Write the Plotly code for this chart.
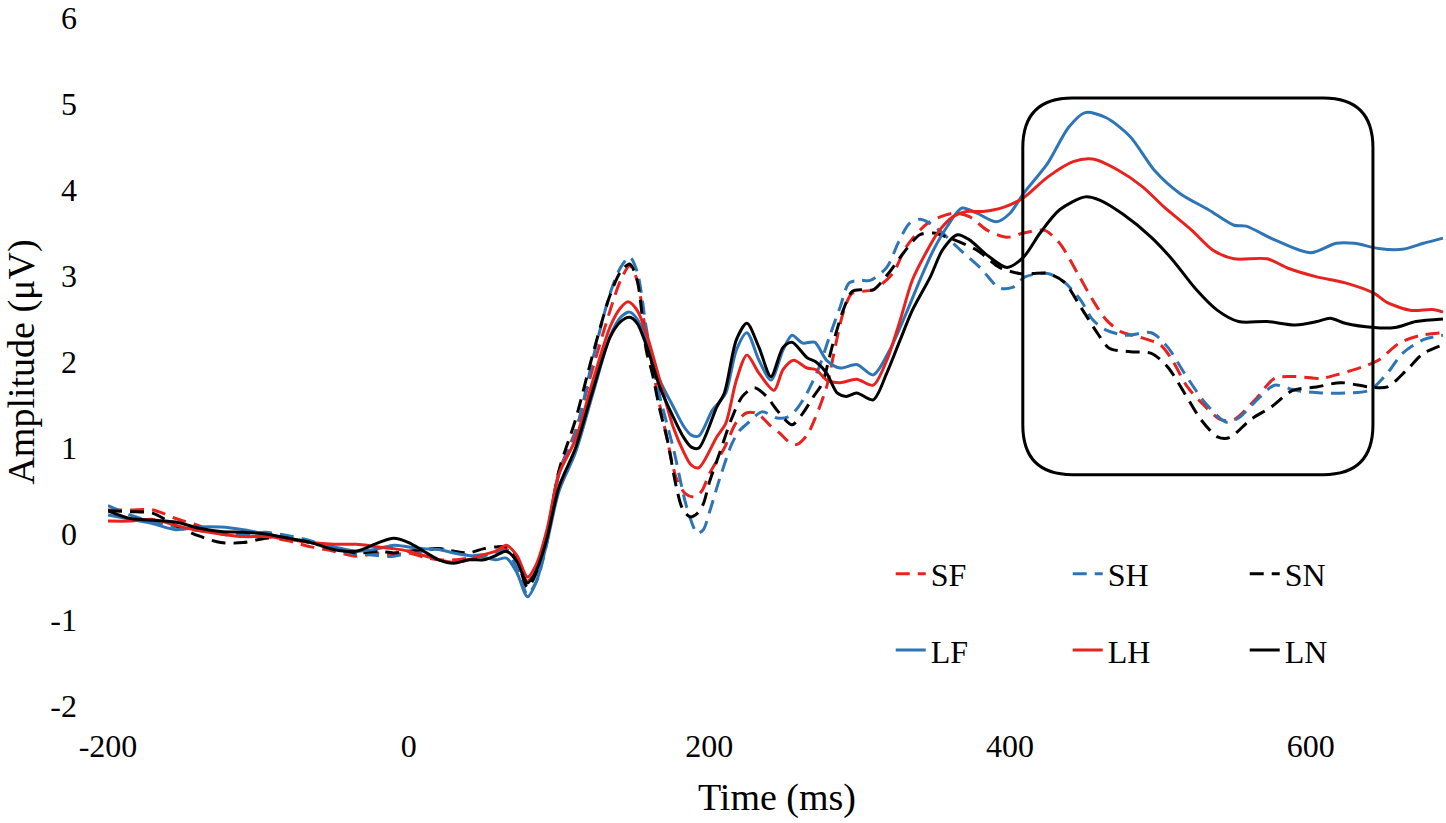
import plotly.graph_objects as go

# ---- data (time in ms, amplitude in microvolts) ----
t_SF = [-200,-185,-170,-155,-140,-125,-110,-95,-80,-65,-50,-35,-20,-10,0,10,20,30,40,50,58,65,72,79,85,92,100,111,122,134,141,147,152,158,162,167,172,178,184,190,195,200,210,218,225,232,240,247,253,258,265,270,278,284,289,295,309,322,331,345,362,373,385,398,409,423,433,445,455,464,474,488,500,508,518,530,540,549,563,576,590,607,617,634,645,659,673,688]
v_SF = [0.28,0.28,0.28,0.18,0.1,0.0,-0.02,-0.03,-0.08,-0.15,-0.2,-0.26,-0.22,-0.24,-0.22,-0.27,-0.3,-0.3,-0.28,-0.25,-0.2,-0.18,-0.3,-0.55,-0.4,0.0,0.72,1.2,1.9,2.6,2.95,3.12,2.95,2.3,1.95,1.5,1.1,0.65,0.47,0.43,0.5,0.7,1.0,1.3,1.41,1.40,1.27,1.17,1.07,1.04,1.15,1.33,1.71,2.2,2.57,2.80,2.84,3.03,3.34,3.61,3.73,3.69,3.53,3.45,3.50,3.53,3.38,3.03,2.72,2.49,2.35,2.28,2.20,2.02,1.71,1.48,1.33,1.33,1.56,1.81,1.83,1.81,1.85,1.94,2.02,2.22,2.31,2.34]

t_SH = [-200,-185,-170,-155,-140,-125,-110,-95,-80,-65,-50,-35,-20,-10,0,10,20,30,40,50,58,65,72,79,85,92,100,111,122,134,141,147,152,158,162,167,176,185,192,196,200,207,215,220,225,235,245,252,258,265,273,280,287,293,300,307,318,326,333,340,345,355,367,380,393,402,410,425,436,447,455,464,477,494,505,516,530,544,552,566,576,590,607,623,639,651,661,675,688]
v_SH = [0.33,0.22,0.14,0.08,0.04,0.02,0.0,0.02,-0.02,-0.08,-0.18,-0.23,-0.25,-0.26,-0.22,-0.2,-0.17,-0.2,-0.25,-0.24,-0.22,-0.2,-0.4,-0.7,-0.55,-0.1,0.7,1.17,2.0,2.8,3.1,3.22,3.05,2.4,2.0,1.6,1.0,0.31,0.01,0.05,0.25,0.65,1.05,1.2,1.28,1.42,1.35,1.36,1.45,1.64,1.94,2.3,2.64,2.92,2.95,2.95,3.10,3.4,3.61,3.66,3.63,3.5,3.30,3.10,2.86,2.87,2.99,3.03,2.93,2.72,2.49,2.37,2.31,2.34,2.17,1.87,1.52,1.30,1.35,1.59,1.73,1.67,1.64,1.64,1.67,1.87,2.10,2.26,2.31]

t_SN = [-200,-185,-170,-155,-140,-125,-110,-95,-80,-65,-50,-35,-20,-10,0,10,20,30,40,50,58,65,72,79,85,92,100,111,122,134,141,147,152,158,162,167,172,178,182,187,192,196,200,207,215,222,230,238,245,255,262,269,275,282,289,295,302,309,320,327,340,349,360,378,393,406,415,425,436,447,458,466,480,494,505,516,527,538,546,560,574,588,604,620,639,651,664,675,688]
v_SN = [0.27,0.26,0.24,0.1,-0.02,-0.1,-0.1,-0.05,-0.05,-0.1,-0.15,-0.22,-0.2,-0.22,-0.2,-0.18,-0.17,-0.2,-0.22,-0.17,-0.15,-0.15,-0.3,-0.62,-0.45,0.0,0.74,1.33,2.06,2.78,3.05,3.14,2.95,2.14,1.87,1.45,1.1,0.55,0.3,0.2,0.24,0.35,0.6,0.95,1.35,1.6,1.70,1.6,1.44,1.27,1.4,1.59,1.75,2.2,2.6,2.82,2.84,2.84,3.05,3.22,3.48,3.50,3.44,3.30,3.10,3.03,3.03,3.03,2.93,2.64,2.34,2.16,2.12,2.10,1.94,1.64,1.33,1.13,1.12,1.33,1.48,1.67,1.71,1.76,1.71,1.71,1.91,2.10,2.20]

t_LF = [-200,-185,-170,-155,-140,-125,-110,-95,-80,-65,-50,-35,-20,-10,0,10,20,30,40,50,58,65,72,79,85,92,100,111,122,134,141,147,152,158,167,176,183,188,193,202,206,211,218,225,233,241,249,255,262,270,278,287,298,309,320,331,340,349,358,368,378,391,400,409,425,439,450,464,480,496,513,532,549,557,576,600,617,629,645,661,675,688]
v_LF = [0.22,0.17,0.12,0.05,0.08,0.08,0.05,0.0,-0.05,-0.1,-0.15,-0.2,-0.17,-0.13,-0.15,-0.17,-0.18,-0.22,-0.25,-0.27,-0.3,-0.28,-0.45,-0.73,-0.55,-0.1,0.5,0.95,1.6,2.3,2.52,2.58,2.5,2.26,1.79,1.48,1.25,1.15,1.14,1.44,1.52,1.64,2.14,2.34,2.02,1.79,2.14,2.31,2.22,2.23,2.02,1.93,1.97,1.85,2.14,2.57,2.95,3.30,3.57,3.79,3.73,3.63,3.73,3.96,4.31,4.73,4.90,4.84,4.62,4.23,3.96,3.77,3.59,3.58,3.42,3.27,3.38,3.38,3.32,3.31,3.38,3.44]

t_LH = [-200,-185,-170,-155,-140,-125,-110,-95,-80,-65,-50,-35,-20,-10,0,10,20,30,40,50,58,65,72,79,85,92,100,111,122,134,141,146,152,158,167,176,183,188,193,205,211,218,225,233,243,249,256,265,271,278,287,298,309,318,327,335,345,353,362,371,382,396,409,425,442,455,472,488,502,521,535,549,571,585,604,623,642,651,667,681,688]
v_LH = [0.15,0.15,0.17,0.1,0.04,0.0,-0.03,-0.03,-0.06,-0.1,-0.12,-0.12,-0.15,-0.17,-0.2,-0.25,-0.3,-0.33,-0.3,-0.24,-0.2,-0.13,-0.25,-0.5,-0.35,0.05,0.7,1.1,1.75,2.41,2.63,2.70,2.6,2.34,1.79,1.24,0.95,0.8,0.77,1.13,1.29,1.79,2.08,1.87,1.67,1.91,2.02,1.93,1.91,1.79,1.76,1.80,1.73,2.02,2.49,2.95,3.30,3.53,3.69,3.75,3.75,3.80,3.91,4.15,4.33,4.36,4.23,4.04,3.81,3.53,3.30,3.20,3.20,3.09,2.99,2.92,2.80,2.69,2.60,2.61,2.58]

t_LN = [-200,-185,-170,-155,-140,-125,-110,-95,-80,-65,-50,-35,-20,-10,0,10,20,30,40,50,58,65,72,79,85,92,100,111,122,134,141,147,152,158,167,176,183,188,193,205,210,218,225,233,241,249,255,265,271,278,285,291,298,309,318,327,335,347,355,365,373,385,398,409,420,433,450,460,475,494,508,524,538,552,571,590,604,613,623,642,656,670,688]
v_LN = [0.27,0.18,0.16,0.14,0.07,0.03,0.02,0.0,-0.05,-0.1,-0.18,-0.2,-0.1,-0.05,-0.1,-0.2,-0.3,-0.34,-0.3,-0.3,-0.25,-0.2,-0.32,-0.57,-0.42,-0.05,0.55,1.0,1.64,2.29,2.47,2.52,2.45,2.2,1.71,1.36,1.12,1.01,1.0,1.48,1.64,2.26,2.45,2.17,1.83,2.17,2.23,2.05,2.0,1.87,1.64,1.6,1.64,1.56,1.87,2.26,2.60,2.99,3.30,3.48,3.42,3.24,3.10,3.22,3.50,3.77,3.92,3.88,3.72,3.45,3.19,2.84,2.60,2.47,2.47,2.43,2.47,2.51,2.45,2.40,2.40,2.47,2.50]

x_ticks = [-200, 0, 200, 400, 600]
y_ticks = [-2, -1, 0, 1, 2, 3, 4, 5, 6]

# highlighted window (rounded box) in data units
box_t0, box_t1 = 408.5, 641.4
box_v0, box_v1 = 0.69, 5.07
box_rt, box_rv = 33, 0.58

RED = "#E8231F"
BLUE = "#2E75B6"
BLACK = "#000000"
DASH = "14px,8px"
FONT = "Liberation Serif"

fig = go.Figure()

def add(t, v, name, color, dash, legend):
    fig.add_trace(go.Scatter(
        x=t, y=v, mode="lines", name=name,
        line=dict(color=color, width=3, dash=dash, shape="spline", smoothing=0.8),
        legend=legend, hoverinfo="skip"))

add(t_SF, v_SF, "SF", RED, DASH, "legend")
add(t_SH, v_SH, "SH", BLUE, DASH, "legend")
add(t_SN, v_SN, "SN", BLACK, DASH, "legend")
add(t_LF, v_LF, "LF", BLUE, "solid", "legend2")
add(t_LH, v_LH, "LH", RED, "solid", "legend2")
add(t_LN, v_LN, "LN", BLACK, "solid", "legend2")

a, b, c, d = box_t0, box_t1, box_v0, box_v1
rt, rv = box_rt, box_rv
path = (f"M {a+rt},{d} L {b-rt},{d} Q {b},{d} {b},{d-rv} "
        f"L {b},{c+rv} Q {b},{c} {b-rt},{c} "
        f"L {a+rt},{c} Q {a},{c} {a},{c+rv} "
        f"L {a},{d-rv} Q {a},{d} {a+rt},{d} Z")
fig.add_shape(type="path", path=path, xref="x", yref="y",
              line=dict(color=BLACK, width=3), layer="above")

legend_common = dict(orientation="h", xanchor="left", yanchor="middle",
                     font=dict(family=FONT, size=32, color="black"),
                     bgcolor="rgba(0,0,0,0)", entrywidth=132, entrywidthmode="pixels",
                     traceorder="normal")

fig.update_layout(
    width=1446, height=823,
    margin=dict(l=108, r=0, t=18, b=117),
    paper_bgcolor="white", plot_bgcolor="white",
    font=dict(family=FONT, size=32, color="black"),
    showlegend=True,
    legend=dict(x=0.585, y=0.192, **legend_common),
    legend2=dict(x=0.585, y=0.081, **legend_common),
    xaxis=dict(range=[-200, 690], tickvals=x_ticks, ticktext=[str(v) for v in x_ticks],
               showgrid=False, zeroline=False, showline=False, ticks="",
               ticklabelstandoff=18,
               tickfont=dict(family=FONT, size=32, color="black"),
               title=dict(text="Time (ms)", font=dict(family=FONT, size=38, color="black"), standoff=20)),
    yaxis=dict(range=[-2, 6], tickvals=y_ticks, ticktext=[str(v) for v in y_ticks],
               showgrid=False, zeroline=False, showline=False, ticks="",
               ticklabelstandoff=30,
               tickfont=dict(family=FONT, size=32, color="black"),
               title=dict(text="Amplitude (μV)", font=dict(family=FONT, size=38, color="black"), standoff=6)),
)

fig.write_html("out.html", include_plotlyjs=True, full_html=True,
               config={"displayModeBar": False},
               post_script="document.body.style.margin='0';document.body.style.overflow='hidden';")
